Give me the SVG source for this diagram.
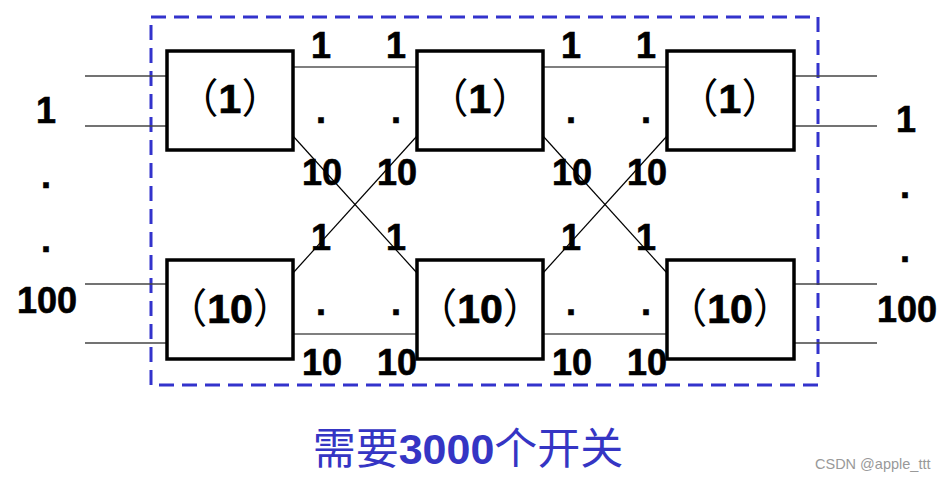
<svg xmlns="http://www.w3.org/2000/svg" width="945" height="480" viewBox="0 0 945 480">
<style>
.box{fill:#fff;stroke:#000;stroke-width:3.5}
.io{stroke:#444;stroke-width:1.5}
.ln{stroke:#000;stroke-width:1.2;fill:none}
.num{font-family:"Liberation Sans",Arial,sans-serif;font-weight:bold;font-size:36px;fill:#000;stroke:#000;stroke-width:0.6;text-anchor:middle}
.lbl{font-family:"Liberation Sans",Arial,sans-serif;font-weight:bold;font-size:41px;fill:#000;text-anchor:middle}
.dig{stroke:#000;stroke-width:0.7}
.par{font-family:"Noto Sans CJK SC",sans-serif;font-weight:normal}
.cap{font-family:"Noto Sans CJK SC",sans-serif;font-size:43px;fill:#3535c4;text-anchor:middle}
</style>
<rect width="945" height="480" fill="#fff"/>
<rect x="151" y="17" width="667" height="368" fill="none" stroke="#3333cc" stroke-width="3" stroke-dasharray="15 8"/>
<g id="connectors">
<line class="io" x1="85" y1="76" x2="167" y2="76"/>
<line class="io" x1="85" y1="126" x2="167" y2="126"/>
<line class="io" x1="85" y1="284" x2="167" y2="284"/>
<line class="io" x1="85" y1="343" x2="167" y2="343"/>
<line class="io" x1="794" y1="76" x2="877" y2="76"/>
<line class="io" x1="794" y1="126" x2="877" y2="126"/>
<line class="io" x1="794" y1="284" x2="877" y2="284"/>
<line class="io" x1="794" y1="343" x2="877" y2="343"/>
<line class="ln" x1="293" y1="67" x2="417" y2="67"/>
<line class="ln" x1="293" y1="136" x2="417" y2="273"/>
<line class="ln" x1="293" y1="273" x2="417" y2="136"/>
<line class="ln" x1="293" y1="334" x2="417" y2="334"/>
<line class="ln" x1="543" y1="67" x2="667" y2="67"/>
<line class="ln" x1="543" y1="136" x2="667" y2="273"/>
<line class="ln" x1="543" y1="273" x2="667" y2="136"/>
<line class="ln" x1="543" y1="334" x2="667" y2="334"/>
</g>
<g id="s11"><rect class="box" x="167" y="51" width="126" height="99"/><text class="lbl" x="230" y="113"><tspan class="par">（</tspan><tspan class="dig">1</tspan><tspan class="par">）</tspan></text></g>
<g id="s110"><rect class="box" x="167" y="260" width="126" height="99"/><text class="lbl" x="230" y="323"><tspan class="par">（</tspan><tspan class="dig">10</tspan><tspan class="par">）</tspan></text></g>
<g id="s21"><rect class="box" x="417" y="51" width="126" height="99"/><text class="lbl" x="480" y="113"><tspan class="par">（</tspan><tspan class="dig">1</tspan><tspan class="par">）</tspan></text></g>
<g id="s210"><rect class="box" x="417" y="260" width="126" height="99"/><text class="lbl" x="480" y="323"><tspan class="par">（</tspan><tspan class="dig">10</tspan><tspan class="par">）</tspan></text></g>
<g id="s31"><rect class="box" x="667" y="51" width="127" height="99"/><text class="lbl" x="730" y="113"><tspan class="par">（</tspan><tspan class="dig">1</tspan><tspan class="par">）</tspan></text></g>
<g id="s310"><rect class="box" x="667" y="260" width="127" height="99"/><text class="lbl" x="730" y="323"><tspan class="par">（</tspan><tspan class="dig">10</tspan><tspan class="par">）</tspan></text></g>
<g id="labels">
<text class="num" x="321" y="58">1</text><text class="num" x="396" y="58">1</text>
<text class="num" x="571" y="58">1</text><text class="num" x="646" y="58">1</text>
<text class="num" x="321" y="123">.</text><text class="num" x="396" y="123">.</text>
<text class="num" x="571" y="123">.</text><text class="num" x="646" y="123">.</text>
<text class="num" x="322" y="185">10</text><text class="num" x="397" y="185">10</text>
<text class="num" x="572" y="185">10</text><text class="num" x="647" y="185">10</text>
<text class="num" x="321" y="250">1</text><text class="num" x="396" y="250">1</text>
<text class="num" x="571" y="250">1</text><text class="num" x="646" y="250">1</text>
<text class="num" x="321" y="315">.</text><text class="num" x="396" y="315">.</text>
<text class="num" x="571" y="315">.</text><text class="num" x="646" y="315">.</text>
<text class="num" x="322" y="375">10</text><text class="num" x="397" y="375">10</text>
<text class="num" x="572" y="375">10</text><text class="num" x="647" y="375">10</text>
<text class="num" x="46" y="123">1</text>
<text class="num" x="46" y="188">.</text>
<text class="num" x="46" y="252">.</text>
<text class="num" x="47" y="313">100</text>
<text class="num" x="906" y="132">1</text>
<text class="num" x="905" y="198">.</text>
<text class="num" x="905" y="262">.</text>
<text class="num" x="907" y="322">100</text>
</g>
<text class="cap" x="468" y="464">需要<tspan font-family="Liberation Sans,Arial,sans-serif" font-weight="bold">3000</tspan>个开关</text>
<text x="815" y="469" font-family="Liberation Sans,Arial,sans-serif" font-size="14.5" fill="#999">CSDN @apple_ttt</text>
</svg>
